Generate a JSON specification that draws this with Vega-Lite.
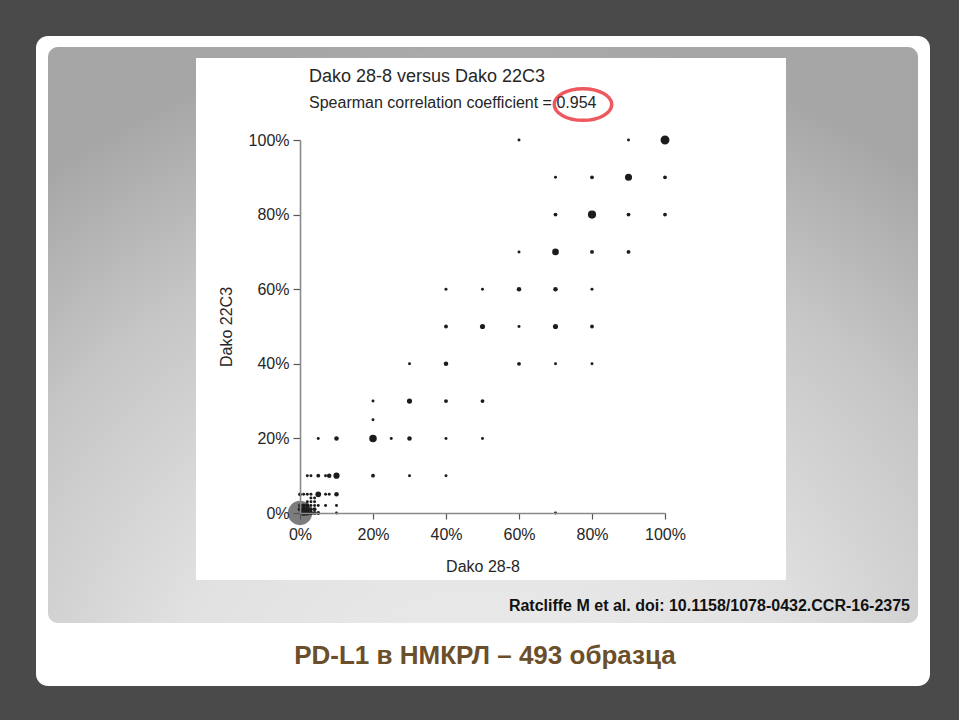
{
  "$schema": "https://vega.github.io/schema/vega-lite/v6.json",
  "width": 365,
  "height": 373,
  "autosize": {"type": "none"},
  "padding": {"left": 300, "top": 140, "right": 294, "bottom": 207},
  "background": "#4a4a4a",
  "config": {
    "font": "Liberation Sans",
    "view": {"stroke": null},
    "axis": {
      "grid": false,
      "domainColor": "#8a8a8a",
      "domainWidth": 1.6,
      "tickColor": "#555555",
      "tickWidth": 1.2,
      "tickSize": 7,
      "labelFont": "Liberation Sans",
      "labelFontSize": 16,
      "labelColor": "#262626",
      "labelFlush": false,
      "titleFont": "Liberation Sans",
      "titleFontSize": 16,
      "titleFontWeight": "normal",
      "titleColor": "#262626"
    }
  },
  "data": {
    "values": [
      {"dako28_8": 0, "dako22c3": 0, "n": 100},
      {"dako28_8": 0.01, "dako22c3": 0, "n": 5},
      {"dako28_8": 0.02, "dako22c3": 0, "n": 4},
      {"dako28_8": 0.03, "dako22c3": 0, "n": 3},
      {"dako28_8": 0.04, "dako22c3": 0, "n": 2},
      {"dako28_8": 0.05, "dako22c3": 0, "n": 2},
      {"dako28_8": 0.1, "dako22c3": 0, "n": 1},
      {"dako28_8": 0.7, "dako22c3": 0, "n": 1},
      {"dako28_8": 0, "dako22c3": 0.01, "n": 3},
      {"dako28_8": 0.01, "dako22c3": 0.01, "n": 4},
      {"dako28_8": 0.02, "dako22c3": 0.01, "n": 4},
      {"dako28_8": 0.03, "dako22c3": 0.01, "n": 2},
      {"dako28_8": 0.04, "dako22c3": 0.01, "n": 2},
      {"dako28_8": 0, "dako22c3": 0.02, "n": 2},
      {"dako28_8": 0.01, "dako22c3": 0.02, "n": 2},
      {"dako28_8": 0.02, "dako22c3": 0.02, "n": 3},
      {"dako28_8": 0.03, "dako22c3": 0.02, "n": 1},
      {"dako28_8": 0.04, "dako22c3": 0.02, "n": 1},
      {"dako28_8": 0.05, "dako22c3": 0.02, "n": 1},
      {"dako28_8": 0.07, "dako22c3": 0.02, "n": 1},
      {"dako28_8": 0.1, "dako22c3": 0.02, "n": 1},
      {"dako28_8": 0.02, "dako22c3": 0.03, "n": 1},
      {"dako28_8": 0.03, "dako22c3": 0.03, "n": 1},
      {"dako28_8": 0.04, "dako22c3": 0.03, "n": 1},
      {"dako28_8": 0.03, "dako22c3": 0.04, "n": 1},
      {"dako28_8": 0.04, "dako22c3": 0.04, "n": 1},
      {"dako28_8": 0, "dako22c3": 0.05, "n": 2},
      {"dako28_8": 0.01, "dako22c3": 0.05, "n": 1},
      {"dako28_8": 0.02, "dako22c3": 0.05, "n": 1},
      {"dako28_8": 0.03, "dako22c3": 0.05, "n": 1},
      {"dako28_8": 0.05, "dako22c3": 0.05, "n": 5},
      {"dako28_8": 0.07, "dako22c3": 0.05, "n": 1},
      {"dako28_8": 0.08, "dako22c3": 0.05, "n": 1},
      {"dako28_8": 0.1, "dako22c3": 0.05, "n": 3},
      {"dako28_8": 0.02, "dako22c3": 0.1, "n": 1},
      {"dako28_8": 0.03, "dako22c3": 0.1, "n": 1},
      {"dako28_8": 0.05, "dako22c3": 0.1, "n": 2},
      {"dako28_8": 0.07, "dako22c3": 0.1, "n": 1},
      {"dako28_8": 0.08, "dako22c3": 0.1, "n": 3},
      {"dako28_8": 0.1, "dako22c3": 0.1, "n": 6},
      {"dako28_8": 0.2, "dako22c3": 0.1, "n": 2},
      {"dako28_8": 0.3, "dako22c3": 0.1, "n": 1},
      {"dako28_8": 0.4, "dako22c3": 0.1, "n": 1},
      {"dako28_8": 0.05, "dako22c3": 0.2, "n": 1},
      {"dako28_8": 0.1, "dako22c3": 0.2, "n": 3},
      {"dako28_8": 0.2, "dako22c3": 0.2, "n": 9},
      {"dako28_8": 0.25, "dako22c3": 0.2, "n": 1},
      {"dako28_8": 0.3, "dako22c3": 0.2, "n": 3},
      {"dako28_8": 0.4, "dako22c3": 0.2, "n": 1},
      {"dako28_8": 0.5, "dako22c3": 0.2, "n": 1},
      {"dako28_8": 0.2, "dako22c3": 0.25, "n": 1},
      {"dako28_8": 0.2, "dako22c3": 0.3, "n": 1},
      {"dako28_8": 0.3, "dako22c3": 0.3, "n": 4},
      {"dako28_8": 0.4, "dako22c3": 0.3, "n": 2},
      {"dako28_8": 0.5, "dako22c3": 0.3, "n": 2},
      {"dako28_8": 0.3, "dako22c3": 0.4, "n": 1},
      {"dako28_8": 0.4, "dako22c3": 0.4, "n": 3},
      {"dako28_8": 0.6, "dako22c3": 0.4, "n": 2},
      {"dako28_8": 0.7, "dako22c3": 0.4, "n": 1},
      {"dako28_8": 0.8, "dako22c3": 0.4, "n": 1},
      {"dako28_8": 0.4, "dako22c3": 0.5, "n": 2},
      {"dako28_8": 0.5, "dako22c3": 0.5, "n": 4},
      {"dako28_8": 0.6, "dako22c3": 0.5, "n": 1},
      {"dako28_8": 0.7, "dako22c3": 0.5, "n": 4},
      {"dako28_8": 0.8, "dako22c3": 0.5, "n": 2},
      {"dako28_8": 0.4, "dako22c3": 0.6, "n": 1},
      {"dako28_8": 0.5, "dako22c3": 0.6, "n": 1},
      {"dako28_8": 0.6, "dako22c3": 0.6, "n": 3},
      {"dako28_8": 0.7, "dako22c3": 0.6, "n": 3},
      {"dako28_8": 0.8, "dako22c3": 0.6, "n": 1},
      {"dako28_8": 0.6, "dako22c3": 0.7, "n": 1},
      {"dako28_8": 0.7, "dako22c3": 0.7, "n": 7},
      {"dako28_8": 0.8, "dako22c3": 0.7, "n": 2},
      {"dako28_8": 0.9, "dako22c3": 0.7, "n": 2},
      {"dako28_8": 0.7, "dako22c3": 0.8, "n": 2},
      {"dako28_8": 0.8, "dako22c3": 0.8, "n": 11},
      {"dako28_8": 0.9, "dako22c3": 0.8, "n": 2},
      {"dako28_8": 1, "dako22c3": 0.8, "n": 2},
      {"dako28_8": 0.7, "dako22c3": 0.9, "n": 1},
      {"dako28_8": 0.8, "dako22c3": 0.9, "n": 2},
      {"dako28_8": 0.9, "dako22c3": 0.9, "n": 8},
      {"dako28_8": 1, "dako22c3": 0.9, "n": 2},
      {"dako28_8": 0.6, "dako22c3": 1, "n": 1},
      {"dako28_8": 0.9, "dako22c3": 1, "n": 1},
      {"dako28_8": 1, "dako22c3": 1, "n": 13}
    ]
  },
  "layer": [
    {
      "data": {"values": [{}]},
      "mark": {"type": "rect", "fill": "#ffffff", "cornerRadius": 12},
      "encoding": {
        "x": {"datum": -0.7233, "type": "quantitative", "scale": {"domain": [0, 1], "nice": false}},
        "x2": {"datum": 1.726},
        "y": {"datum": 1.2788, "type": "quantitative", "scale": {"domain": [0, 1], "nice": false}},
        "y2": {"datum": -0.4638}
      }
    },
    {
      "data": {"values": [{}]},
      "mark": {
        "type": "rect",
        "cornerRadius": 10,
        "fill": {
          "gradient": "radial",
          "x1": 0.5, "y1": 1, "r1": 0,
          "x2": 0.5, "y2": 1, "r2": 0.85,
          "stops": [
            {"offset": 0, "color": "#eeeeee"},
            {"offset": 0.45, "color": "#e1e1e1"},
            {"offset": 0.75, "color": "#c6c6c6"},
            {"offset": 1, "color": "#a6a6a6"}
          ]
        }
      },
      "encoding": {
        "x": {"datum": -0.6904, "type": "quantitative", "scale": {"domain": [0, 1], "nice": false}},
        "x2": {"datum": 1.6932},
        "y": {"datum": 1.2493, "type": "quantitative", "scale": {"domain": [0, 1], "nice": false}},
        "y2": {"datum": -0.2949}
      }
    },
    {
      "data": {"values": [{}]},
      "mark": {"type": "rect", "fill": "#ffffff"},
      "encoding": {
        "x": {"datum": -0.2849, "type": "quantitative", "scale": {"domain": [0, 1], "nice": false}},
        "x2": {"datum": 1.3315},
        "y": {"datum": 1.2198, "type": "quantitative", "scale": {"domain": [0, 1], "nice": false}},
        "y2": {"datum": -0.1796}
      }
    },
    {
      "mark": {"type": "point", "filled": true, "opacity": 1, "strokeWidth": 0},
      "encoding": {
        "x": {
          "field": "dako28_8", "type": "quantitative",
          "scale": {"domain": [0, 1], "nice": false},
          "axis": {"title": "Dako 28-8", "zindex": 1, "values": [0, 0.2, 0.4, 0.6, 0.8, 1], "format": ".0%", "tickSize": 6, "labelPadding": 7, "titlePadding": 16}
        },
        "y": {
          "field": "dako22c3", "type": "quantitative",
          "scale": {"domain": [0, 1], "nice": false},
          "axis": {"title": "Dako 22C3", "zindex": 1, "values": [0, 0.2, 0.4, 0.6, 0.8, 1], "format": ".0%", "tickSize": 7, "labelPadding": 4, "titlePadding": 14}
        },
        "size": {"field": "n", "type": "quantitative", "scale": {"type": "linear", "domain": [0, 100], "range": [3, 590]}, "legend": null},
        "color": {"condition": {"test": "datum.n >= 50", "value": "#7d7d7d"}, "value": "#1c1c1c"}
      }
    },
    {
      "data": {"values": [{}]},
      "mark": {"type": "text", "text": "Dako 28-8 versus Dako 22C3", "align": "left", "baseline": "alphabetic", "font": "Liberation Sans", "fontSize": 18, "fill": "#262626"},
      "encoding": {
        "x": {"datum": 0.0247, "type": "quantitative", "scale": {"domain": [0, 1], "nice": false}},
        "y": {"datum": 1.1555, "type": "quantitative", "scale": {"domain": [0, 1], "nice": false}}
      }
    },
    {
      "data": {"values": [{}]},
      "mark": {"type": "text", "text": "Spearman correlation coefficient = 0.954", "align": "left", "baseline": "alphabetic", "font": "Liberation Sans", "fontSize": 16, "fill": "#262626"},
      "encoding": {
        "x": {"datum": 0.0247, "type": "quantitative", "scale": {"domain": [0, 1], "nice": false}},
        "y": {"datum": 1.0858, "type": "quantitative", "scale": {"domain": [0, 1], "nice": false}}
      }
    },
    {
      "data": {"values": [{}]},
      "mark": {"type": "point", "shape": "M-1,0A1,0.55,0,1,1,1,0A1,0.55,0,1,1,-1,0Z", "filled": false, "stroke": "#e8121b", "strokeWidth": 3.5, "size": 3300},
      "encoding": {
        "x": {"datum": 0.7753, "type": "quantitative", "scale": {"domain": [0, 1], "nice": false}},
        "y": {"datum": 1.0952, "type": "quantitative", "scale": {"domain": [0, 1], "nice": false}}
      }
    },
    {
      "data": {"values": [{}]},
      "mark": {"type": "text", "text": "Ratcliffe M et al. doi: 10.1158/1078-0432.CCR-16-2375", "align": "right", "baseline": "alphabetic", "font": "Liberation Sans", "fontSize": 16, "fontWeight": "bold", "fill": "#111111"},
      "encoding": {
        "x": {"datum": 1.6712, "type": "quantitative", "scale": {"domain": [0, 1], "nice": false}},
        "y": {"datum": -0.2627, "type": "quantitative", "scale": {"domain": [0, 1], "nice": false}}
      }
    },
    {
      "data": {"values": [{}]},
      "mark": {"type": "text", "text": "PD-L1 в НМКРЛ – 493 образца", "align": "center", "baseline": "alphabetic", "font": "Liberation Sans", "fontSize": 26, "fontWeight": "bold", "fill": "#6b4f2a"},
      "encoding": {
        "x": {"datum": 0.5068, "type": "quantitative", "scale": {"domain": [0, 1], "nice": false}},
        "y": {"datum": -0.4048, "type": "quantitative", "scale": {"domain": [0, 1], "nice": false}}
      }
    }
  ]
}
